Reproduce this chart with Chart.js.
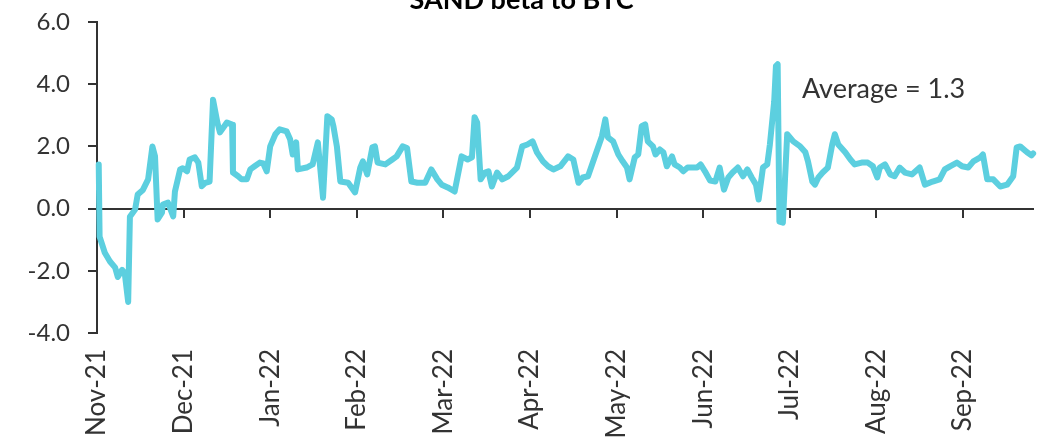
<!DOCTYPE html>
<html>
<head>
<meta charset="utf-8">
<script src="https://cdn.jsdelivr.net/npm/chart.js@4.4.1/dist/chart.umd.min.js"></script>
<style>
  html, body { margin: 0; padding: 0; background: #ffffff; }
  #wrap { width: 1043px; height: 443px; position: relative; }
</style>
</head>
<body>
<div id="wrap"><canvas id="c" width="1043" height="443"></canvas></div>
<script>
const chartTitle = 'SAND beta to BTC';
const monthLabels = ['Nov-21','Dec-21','Jan-22','Feb-22','Mar-22','Apr-22','May-22','Jun-22','Jul-22','Aug-22','Sep-22'];
const yTicks = [-4, -2, 0, 2, 4, 6];
const averageText = 'Average = 1.3';
const averagePos = [8.14, 3.84];

// x position in months since 1-Nov-21
const xPos = [
  0.02, 0.03, 0.09, 0.15, 0.21, 0.24, 0.29, 0.32, 0.36, 0.38, 0.44, 0.47, 0.53, 0.59, 0.64, 0.67, 0.70, 0.75, 0.76, 0.82,
  0.88, 0.90, 0.96, 0.99, 1.04, 1.07, 1.13, 1.17, 1.21, 1.25, 1.30, 1.34, 1.39, 1.42, 1.50, 1.56, 1.57, 1.63, 1.67, 1.73,
  1.77, 1.82, 1.88, 1.92, 1.96, 2.00, 2.06, 2.11, 2.19, 2.23, 2.26, 2.30, 2.32, 2.42, 2.49, 2.55, 2.61, 2.66, 2.71, 2.73,
  2.77, 2.81, 2.90, 2.98, 3.04, 3.07, 3.12, 3.18, 3.21, 3.24, 3.33, 3.41, 3.46, 3.53, 3.58, 3.63, 3.70, 3.79, 3.86, 3.93,
  3.98, 4.05, 4.13, 4.21, 4.28, 4.33, 4.36, 4.39, 4.43, 4.48, 4.52, 4.56, 4.62, 4.68, 4.75, 4.85, 4.91, 4.97, 5.03, 5.08,
  5.15, 5.21, 5.27, 5.35, 5.44, 5.50, 5.56, 5.61, 5.67, 5.75, 5.83, 5.87, 5.90, 5.96, 6.02, 6.07, 6.12, 6.15, 6.21, 6.25,
  6.29, 6.33, 6.36, 6.42, 6.45, 6.50, 6.54, 6.58, 6.64, 6.67, 6.73, 6.77, 6.82, 6.93, 6.97, 7.02, 7.08, 7.14, 7.19, 7.24,
  7.29, 7.34, 7.40, 7.46, 7.51, 7.56, 7.61, 7.64, 7.69, 7.74, 7.77, 7.82, 7.84, 7.86, 7.88, 7.92, 7.97, 8.04, 8.12, 8.18,
  8.21, 8.26, 8.29, 8.33, 8.38, 8.44, 8.49, 8.52, 8.56, 8.64, 8.70, 8.75, 8.83, 8.90, 8.96, 9.01, 9.04, 9.10, 9.16, 9.21,
  9.27, 9.33, 9.41, 9.50, 9.56, 9.65, 9.73, 9.79, 9.85, 9.93, 9.99, 10.06, 10.12, 10.20, 10.23, 10.28, 10.35, 10.43, 10.51, 10.58,
  10.62, 10.66, 10.74, 10.79, 10.81
];
const betaValues = [
  1.42, -0.90, -1.42, -1.70, -1.90, -2.20, -1.97, -2.07, -3.00, -0.26, -0.03, 0.45, 0.60, 0.94, 2.00, 1.68, -0.35, -0.13, 0.13, 0.19,
  -0.25, 0.55, 1.26, 1.30, 1.20, 1.58, 1.65, 1.48, 0.72, 0.83, 0.87, 3.50, 2.77, 2.45, 2.77, 2.70, 1.16, 1.04, 0.94, 0.94,
  1.26, 1.36, 1.48, 1.45, 1.20, 2.00, 2.39, 2.55, 2.48, 2.23, 1.74, 2.13, 1.26, 1.32, 1.42, 2.13, 0.35, 2.97, 2.87, 2.65,
  2.00, 0.87, 0.83, 0.52, 1.32, 1.52, 1.10, 1.97, 2.00, 1.48, 1.42, 1.58, 1.68, 2.00, 1.95, 0.87, 0.83, 0.83, 1.26, 0.94,
  0.77, 0.68, 0.55, 1.68, 1.58, 1.65, 2.94, 2.77, 0.94, 1.16, 1.20, 0.71, 1.16, 0.94, 1.04, 1.32, 2.00, 2.06, 2.16, 1.81,
  1.52, 1.36, 1.26, 1.36, 1.68, 1.58, 0.83, 1.00, 1.04, 1.68, 2.32, 2.87, 2.29, 2.16, 1.74, 1.52, 1.32, 0.94, 1.65, 1.74,
  2.65, 2.71, 2.16, 2.00, 1.74, 1.90, 1.81, 1.36, 1.68, 1.42, 1.32, 1.20, 1.32, 1.32, 1.42, 1.20, 0.90, 0.87, 1.32, 0.61,
  1.00, 1.16, 1.32, 1.04, 1.26, 1.00, 0.77, 0.29, 1.32, 1.42, 2.06, 3.45, 4.58, 4.64, -0.42, -0.45, 2.39, 2.16, 2.00, 1.81,
  1.52, 0.87, 0.77, 1.00, 1.16, 1.32, 2.06, 2.39, 2.06, 1.81, 1.58, 1.42, 1.48, 1.48, 1.36, 1.00, 1.32, 1.42, 1.10, 1.04,
  1.32, 1.16, 1.10, 1.32, 0.77, 0.87, 0.94, 1.26, 1.36, 1.48, 1.36, 1.32, 1.52, 1.65, 1.74, 0.94, 0.94, 0.71, 0.77, 1.04,
  1.97, 2.00, 1.81, 1.71, 1.77
];

const points = xPos.map((x, i) => ({ x: x, y: betaValues[i] }));
const xMax = 10.82;
const FONT = 'Lato, "Open Sans", sans-serif';
const AXIS = '#333333';
const TEXT = '#333333';

// Zero axis line with month tick marks (drawn under the series), title and average label
const decorations = {
  id: 'decorations',
  beforeDatasetsDraw(chart) {
    const ctx = chart.ctx;
    const xs = chart.scales.x, ys = chart.scales.y;
    const y0 = Math.round(ys.getPixelForValue(0));
    ctx.save();
    ctx.fillStyle = AXIS;
    ctx.fillRect(xs.left, y0 - 1, xs.right - xs.left, 2);
    for (let i = 1; i < monthLabels.length; i++) {
      const px = Math.round(xs.getPixelForValue(i));
      ctx.fillRect(px - 1, y0, 2, 9);
    }
    ctx.restore();
  },
  afterDraw(chart) {
    const ctx = chart.ctx;
    const xs = chart.scales.x, ys = chart.scales.y;
    const ax = xs.getPixelForValue(averagePos[0]);
    const ay = ys.getPixelForValue(averagePos[1]);
    ctx.save();
    ctx.font = '27px ' + FONT;
    ctx.fillStyle = TEXT;
    ctx.textAlign = 'left';
    ctx.textBaseline = 'middle';
    ctx.fillText(averageText, ax, ay);

    ctx.font = 'bold 27px ' + FONT;
    ctx.fillStyle = '#000000';
    ctx.textAlign = 'center';
    ctx.textBaseline = 'alphabetic';
    ctx.fillText(chartTitle, chart.width / 2, 9);
    ctx.restore();
  }
};

new Chart(document.getElementById('c'), {
  type: 'line',
  data: {
    datasets: [{
      data: points,
      borderColor: '#5ccfdf',
      borderWidth: 6,
      pointRadius: 0,
      tension: 0,
      fill: false,
      clip: false,
      borderJoinStyle: 'round',
      borderCapStyle: 'round'
    }]
  },
  options: {
    responsive: false,
    animation: false,
    events: [],
    layout: { padding: { left: 0, right: 9, top: 22, bottom: 0 } },
    plugins: {
      legend: { display: false },
      tooltip: { enabled: false },
      title: { display: false }
    },
    scales: {
      x: {
        type: 'linear',
        position: 'bottom',
        min: 0,
        max: xMax,
        afterFit(s) { s.height = 110; s.paddingLeft = 0; s.paddingRight = 0; },
        border: { display: false },
        grid: { display: false, drawTicks: false },
        ticks: {
          stepSize: 1,
          includeBounds: false,
          autoSkip: false,
          minRotation: 90,
          maxRotation: 90,
          padding: 16,
          color: TEXT,
          font: { family: FONT, size: 26 },
          callback: (v) => (Number.isInteger(v) && monthLabels[v] !== undefined) ? monthLabels[v] : ''
        }
      },
      y: {
        min: yTicks[0],
        max: yTicks[yTicks.length - 1],
        afterFit(s) { s.width = 97; s.paddingTop = 0; s.paddingBottom = 0; },
        afterBuildTicks(s) { s.ticks = yTicks.map(v => ({ value: v })); },
        border: { display: true, color: AXIS, width: 2 },
        grid: { drawOnChartArea: false, drawTicks: true, tickLength: 9, color: AXIS, lineWidth: 2 },
        ticks: {
          padding: 18,
          color: TEXT,
          font: { family: FONT, size: 24 },
          callback: (v) => Number(v).toFixed(1)
        }
      }
    }
  },
  plugins: [decorations]
});
</script>
</body>
</html>
